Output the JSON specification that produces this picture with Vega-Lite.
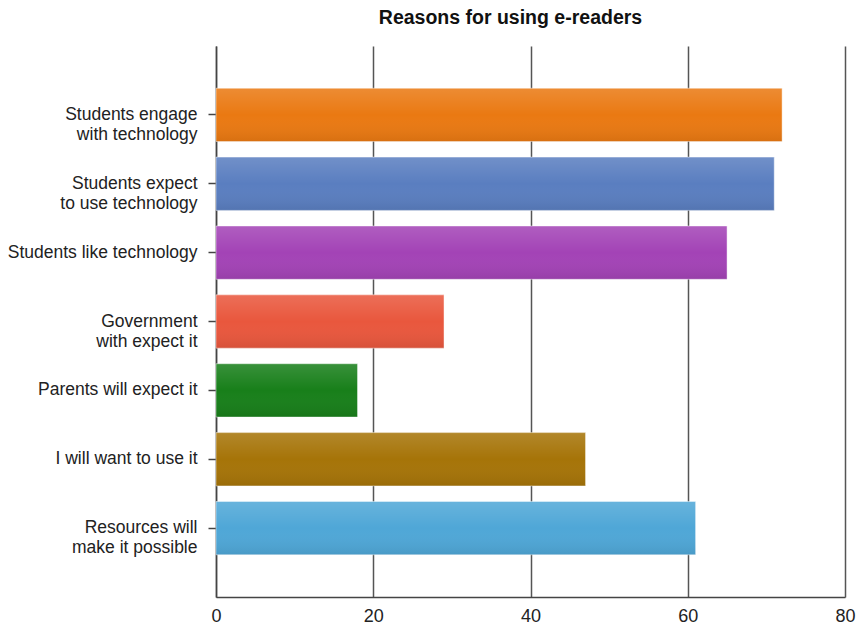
{
  "$schema": "https://vega.github.io/schema/vega-lite/v6.json",
  "width": 629,
  "height": 551,
  "autosize": {"type": "none"},
  "padding": {"left": 216, "top": 46, "right": 12, "bottom": 31},
  "background": "white",
  "config": {"view": {"stroke": null}},
  "title": {
    "text": "Reasons for using e-readers",
    "font": "Liberation Sans",
    "fontSize": 19.5,
    "fontWeight": "bold",
    "color": "#111111",
    "anchor": "middle",
    "dx": -20,
    "offset": 18
  },
  "data": {
    "values": [
      {"reason": "Students engage\nwith technology", "value": 72},
      {"reason": "Students expect\nto use technology", "value": 71},
      {"reason": "Students like technology", "value": 65},
      {"reason": "Government\nwith expect it", "value": 29},
      {"reason": "Parents will expect it", "value": 18},
      {"reason": "I will want to use it", "value": 47},
      {"reason": "Resources will\nmake it possible", "value": 61}
    ]
  },
  "encoding": {
    "y": {
      "field": "reason",
      "type": "nominal",
      "sort": null,
      "scale": {"paddingInner": 0.226, "paddingOuter": 0.613},
      "axis": {
        "title": null,
        "labelExpr": "split(datum.label, '\\n')",
        "labelFont": "Liberation Sans",
        "labelFontSize": 17.5,
        "labelColor": "#222222",
        "labelLineHeight": 20,
        "labelPadding": 11,
        "labelLimit": 260,
        "tickSize": 8,
        "tickColor": "#444444",
        "tickWidth": 1.5,
        "domainColor": "#444444",
        "domainWidth": 1.5,
        "grid": false
      }
    },
    "x": {
      "field": "value",
      "type": "quantitative",
      "scale": {"domain": [0, 80], "nice": false},
      "axis": {
        "title": null,
        "values": [0, 20, 40, 60, 80],
        "labelFont": "Liberation Sans",
        "labelFontSize": 18,
        "labelColor": "#222222",
        "labelPadding": 10,
        "labelFlush": false,
        "tickSize": 0,
        "domainColor": "#444444",
        "domainWidth": 1.5,
        "grid": true,
        "gridColor": "#555555",
        "gridWidth": 1.5,
        "gridOpacity": 1
      }
    }
  },
  "layer": [
    {
      "mark": {"type": "bar", "stroke": "#ffffff", "strokeOpacity": 0.45, "strokeWidth": 1},
      "encoding": {
        "color": {
          "field": "reason",
          "type": "nominal",
          "legend": null,
          "scale": {
            "domain": [
              "Students engage\nwith technology",
              "Students expect\nto use technology",
              "Students like technology",
              "Government\nwith expect it",
              "Parents will expect it",
              "I will want to use it",
              "Resources will\nmake it possible"
            ],
            "range": ["#ea7912", "#5a7ec0", "#a343b6", "#e9573d", "#187f1a", "#a67408", "#4fa7d7"]
          }
        }
      }
    },
    {
      "mark": {
        "type": "bar",
        "color": {
          "gradient": "linear",
          "x1": 0, "y1": 0, "x2": 0, "y2": 1,
          "stops": [
            {"offset": 0, "color": "rgba(255,255,255,0.14)"},
            {"offset": 0.5, "color": "rgba(255,255,255,0)"},
            {"offset": 1, "color": "rgba(0,0,0,0.08)"}
          ]
        }
      },
      "encoding": {}
    }
  ]
}
